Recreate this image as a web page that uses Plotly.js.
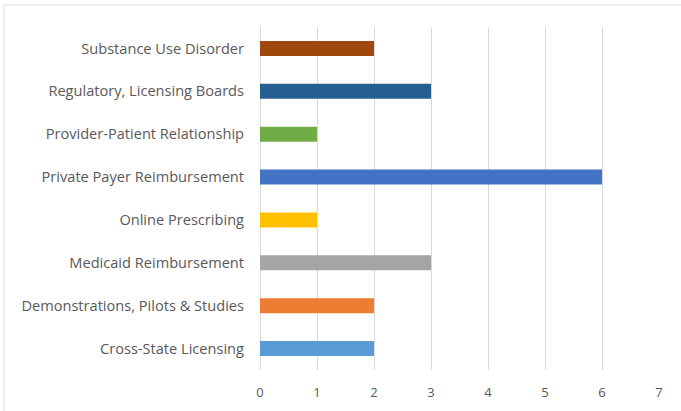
<!DOCTYPE html>
<html>
<head>
<meta charset="utf-8">
<script src="https://cdn.plot.ly/plotly-3.0.1.min.js"></script>
<style>html,body{margin:0;padding:0;background:#fff;}#chart{width:681px;height:411px;}</style>
</head>
<body>
<div id="chart"></div>
<script>
const categories = [
  "Cross-State Licensing",
  "Demonstrations, Pilots & Studies",
  "Medicaid Reimbursement",
  "Online Prescribing",
  "Private Payer Reimbursement",
  "Provider-Patient Relationship",
  "Regulatory, Licensing Boards",
  "Substance Use Disorder"
];
const values = [2, 2, 3, 1, 6, 1, 3, 2];
const colors = ["#5B9BD5", "#ED7D31", "#A5A5A5", "#FFC000", "#4472C4", "#70AD47", "#255E91", "#9E480E"];
const xTicks = [0, 1, 2, 3, 4, 5, 6, 7];

const trace = {
  type: "bar",
  orientation: "h",
  y: categories,
  x: values,
  marker: {color: colors},
  width: 0.35,
  hoverinfo: "none"
};

const layout = {
  width: 681, height: 411,
  margin: {l: 260, r: 22, t: 27, b: 41},
  paper_bgcolor: "#fff", plot_bgcolor: "#fff",
  font: {family: "'Open Sans', sans-serif", size: 14, color: "#595959"},
  showlegend: false,
  xaxis: {
    range: [0, 7], tickvals: xTicks, ticktext: xTicks.map(String),
    showgrid: true, gridcolor: "#D9D9D9", gridwidth: 1,
    zeroline: true, zerolinecolor: "#D9D9D9", zerolinewidth: 1,
    showline: false, ticks: "", ticklabelstandoff: 13,
    tickfont: {size: 13, color: "#595959"}, fixedrange: true
  },
  yaxis: {
    type: "category", categoryorder: "array", categoryarray: categories,
    range: [-0.5, 7.5],
    showgrid: false, zeroline: false, showline: false, ticks: "",
    ticklabelstandoff: 15,
    tickfont: {size: 14.6, color: "#595959"}, fixedrange: true
  },
  shapes: [{
    type: "rect", xref: "paper", yref: "paper",
    x0: -0.6416, x1: 1.2, y0: -0.3, y1: 1.0641,
    line: {color: "#D9D9D9", width: 1}, fillcolor: "rgba(0,0,0,0)", layer: "below"
  }]
};

Plotly.newPlot("chart", [trace], layout, {displayModeBar: false, staticPlot: true});
</script>
</body>
</html>
